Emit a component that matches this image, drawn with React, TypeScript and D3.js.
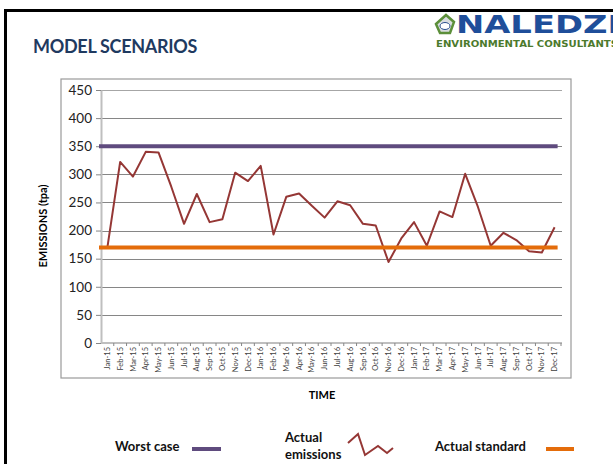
import React, { useEffect, useRef } from 'react';
import * as d3 from 'd3';

const months = [
  'Jan-15', 'Feb-15', 'Mar-15', 'Apr-15', 'May-15', 'Jun-15', 'Jul-15', 'Aug-15', 'Sep-15', 'Oct-15', 'Nov-15', 'Dec-15',
  'Jan-16', 'Feb-16', 'Mar-16', 'Apr-16', 'May-16', 'Jun-16', 'Jul-16', 'Aug-16', 'Sep-16', 'Oct-16', 'Nov-16', 'Dec-16',
  'Jan-17', 'Feb-17', 'Mar-17', 'Apr-17', 'May-17', 'Jun-17', 'Jul-17', 'Aug-17', 'Sep-17', 'Oct-17', 'Nov-17', 'Dec-17',
];

const actualEmissions = [
  170, 322, 296, 340, 339, 278, 212, 265, 215, 220, 303, 288,
  315, 193, 260, 266, 244, 223, 252, 245, 212, 209, 144, 186,
  215, 173, 234, 224, 301, 242, 173, 196, 183, 163, 161, 206,
];

const worstCase = 350;
const actualStandard = 170;
const yTicks = [0, 50, 100, 150, 200, 250, 300, 350, 400, 450];

const FONT = 'Lato, "Open Sans", sans-serif';

export default function App() {
  const svgRef = useRef<SVGSVGElement | null>(null);

  useEffect(() => {
    document.body.style.margin = '0';
    if (!svgRef.current) return;
    const svg = d3.select(svgRef.current);
    svg.selectAll('*').remove();

    const plot = { left: 101, right: 561, top: 90, bottom: 343 };

    const x = d3.scaleBand<string>().domain(months).range([plot.left, plot.right]);
    const y = d3.scaleLinear().domain([0, 450]).range([plot.bottom, plot.top]);
    const cx = (m: string) => (x(m) as number) + x.bandwidth() / 2;

    // slide frame
    svg.append('rect').attr('width', 613).attr('height', 464).attr('fill', '#fff');
    svg.append('line').attr('x1', 4).attr('x2', 613).attr('y1', 10.5).attr('y2', 10.5)
      .attr('stroke', '#000').attr('stroke-width', 3);
    svg.append('line').attr('x1', 5.5).attr('x2', 5.5).attr('y1', 9).attr('y2', 464)
      .attr('stroke', '#000').attr('stroke-width', 3);

    // title
    svg.append('text').attr('x', 33).attr('y', 53).text('MODEL SCENARIOS')
      .attr('font-family', FONT).attr('font-weight', 700).attr('font-size', 18)
      .attr('fill', '#1f3a60').attr('letter-spacing', -0.3);

    // logo
    const logo = svg.append('g');
    logo.append('path')
      .attr('d', 'M436,24 L446,15 L454,22 L450,33 L440,33 Z')
      .attr('fill', '#d9dde0').attr('stroke', '#5c8f3a').attr('stroke-width', 2.5);
    logo.append('ellipse').attr('cx', 445).attr('cy', 26).attr('rx', 5).attr('ry', 3.5)
      .attr('fill', '#fff').attr('stroke', '#2a4f8f').attr('stroke-width', 1);
    logo.append('text').attr('x', 456).attr('y', 32.5).text('NALEDZI')
      .attr('font-family', '"DejaVu Sans", sans-serif').attr('font-weight', 700)
      .attr('font-size', 25).attr('fill', '#1f4e9a')
      .attr('textLength', 164).attr('lengthAdjust', 'spacingAndGlyphs');
    logo.append('text').attr('x', 436).attr('y', 46.5).text('ENVIRONMENTAL CONSULTANTS')
      .attr('font-family', '"DejaVu Sans", sans-serif').attr('font-weight', 700)
      .attr('font-size', 8.5).attr('fill', '#4c7a2c')
      .attr('textLength', 182).attr('lengthAdjust', 'spacingAndGlyphs');

    // chart box
    svg.append('rect').attr('x', 61).attr('y', 79).attr('width', 510).attr('height', 299)
      .attr('fill', 'none').attr('stroke', '#9a9a9a').attr('stroke-width', 1.2);

    // grid
    svg.append('g').selectAll('line').data(yTicks.filter((t) => t > 0)).join('line')
      .attr('x1', plot.left).attr('x2', plot.right + 1)
      .attr('y1', (d) => Math.round(y(d)) + 0.5).attr('y2', (d) => Math.round(y(d)) + 0.5)
      .attr('stroke', (d) => (d === 450 ? '#a6a6a6' : '#868686')).attr('stroke-width', 1);

    // y axis
    const ya = svg.append('g').attr('transform', `translate(${plot.left},0)`)
      .call(d3.axisLeft(y).tickValues(yTicks).tickSize(5).tickPadding(4).tickSizeOuter(0));
    ya.select('.domain').attr('stroke', '#bfbfbf').attr('stroke-width', 2);
    ya.selectAll('.tick line').attr('stroke', '#868686');
    ya.selectAll('.tick text').attr('font-family', FONT).attr('font-size', 13.5).attr('fill', '#222');

    // x axis
    svg.append('line').attr('x1', plot.left).attr('x2', plot.right + 1)
      .attr('y1', plot.bottom).attr('y2', plot.bottom)
      .attr('stroke', '#bfbfbf').attr('stroke-width', 2);
    svg.append('g').selectAll('line').data(months).join('line')
      .attr('x1', (d) => (x(d) as number) + x.bandwidth()).attr('x2', (d) => (x(d) as number) + x.bandwidth())
      .attr('y1', plot.bottom).attr('y2', plot.bottom + 3)
      .attr('stroke', '#868686');
    svg.append('g').selectAll('text').data(months).join('text')
      .attr('transform', (d) => `translate(${cx(d) + 2.6},${plot.bottom + 4}) rotate(-90)`)
      .attr('text-anchor', 'end')
      .attr('font-family', FONT).attr('font-size', 7.5).attr('fill', '#404040')
      .text((d) => d);

    // reference lines
    const x0 = plot.left - 2;
    const x1 = cx(months[months.length - 1]) + 3;
    svg.append('line').attr('x1', x0).attr('x2', x1).attr('y1', y(worstCase)).attr('y2', y(worstCase))
      .attr('stroke', '#5f4b7e').attr('stroke-width', 4);

    // actual emissions
    const line = d3.line<number>().x((_, i) => cx(months[i])).y((d) => y(d));
    svg.append('path').datum(actualEmissions).attr('d', line).attr('fill', 'none')
      .attr('stroke', '#953735').attr('stroke-width', 2).attr('stroke-linejoin', 'round');

    svg.append('line').attr('x1', x0).attr('x2', x1).attr('y1', y(actualStandard)).attr('y2', y(actualStandard))
      .attr('stroke', '#e46c0a').attr('stroke-width', 4);

    // axis titles
    svg.append('text').attr('transform', 'translate(47,226) rotate(-90)').attr('text-anchor', 'middle')
      .attr('font-family', FONT).attr('font-weight', 700).attr('font-size', 11).attr('fill', '#000')
      .text('EMISSIONS (tpa)');
    svg.append('text').attr('x', 322).attr('y', 399).attr('text-anchor', 'middle')
      .attr('font-family', FONT).attr('font-weight', 700).attr('font-size', 11).attr('fill', '#000')
      .text('TIME');

    // legend
    const lg = svg.append('g').attr('font-family', FONT).attr('font-weight', 700)
      .attr('font-size', 13).attr('fill', '#111');
    lg.append('text').attr('x', 115).attr('y', 451).text('Worst case');
    lg.append('rect').attr('x', 192).attr('y', 447).attr('width', 29).attr('height', 4).attr('fill', '#5f4b7e');
    lg.append('text').attr('x', 285).attr('y', 442).text('Actual');
    lg.append('text').attr('x', 285).attr('y', 459).text('emissions');
    lg.append('path').attr('d', 'M348,443 L358,434 L365,455 L378,446 L387,453 L393,448')
      .attr('fill', 'none').attr('stroke', '#953735').attr('stroke-width', 2);
    lg.append('text').attr('x', 435).attr('y', 451).text('Actual standard');
    lg.append('rect').attr('x', 546).attr('y', 447).attr('width', 28).attr('height', 4).attr('fill', '#e46c0a');
  }, []);

  return (
    <svg
      ref={svgRef}
      width={613}
      height={464}
      viewBox="0 0 613 464"
      style={{ position: 'absolute', left: 0, top: 0, display: 'block' }}
    />
  );
}
